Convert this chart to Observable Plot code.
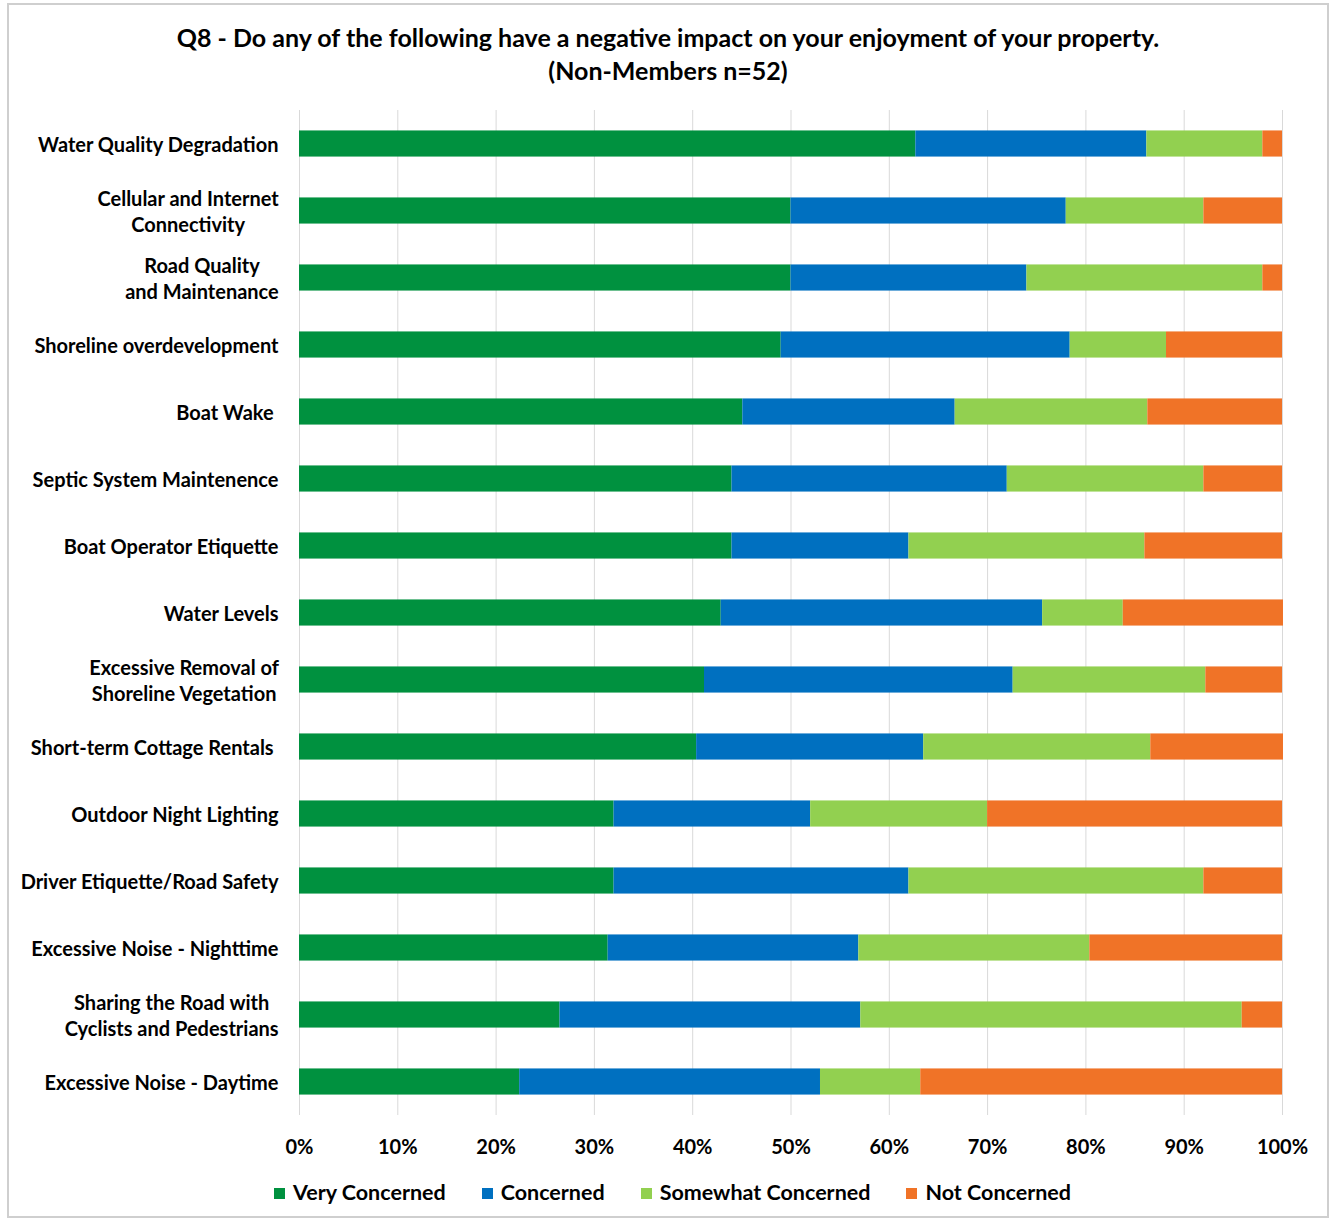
<!DOCTYPE html>
<html><head><meta charset="utf-8">
<script src="https://cdn.jsdelivr.net/npm/d3@7"></script>
<script src="https://cdn.jsdelivr.net/npm/@observablehq/plot@0.6"></script>
<style>
body{margin:0;background:#fff;font-family:Lato,"Open Sans",sans-serif;color:#000;}
#frame{position:absolute;left:7px;top:3px;width:1318px;height:1211px;border:2px solid #cfcfcf;pointer-events:none;}
#title{height:95px;box-sizing:border-box;padding-top:21px;padding-left:5px;text-align:center;font-weight:700;font-size:25px;line-height:33px;white-space:nowrap;}
#chart svg{display:block;}
#legend{display:flex;justify-content:center;gap:36px;font-weight:700;font-size:21.5px;margin-top:14px;padding-left:14px;}
#legend .item{display:flex;align-items:center;}
#legend .sw{width:11px;height:11px;margin-right:8px;margin-top:2px;}
</style></head>
<body>
<div id="frame"></div>
<div id="title">Q8 - Do any of the following have a negative impact on your enjoyment of your property.<br>(Non-Members n=52)</div>
<div id="chart"></div>
<div id="legend"></div>
<script>
const categories = [
  "Water Quality Degradation",
  "Cellular and Internet\nConnectivity",
  "Road Quality\nand Maintenance",
  "Shoreline overdevelopment",
  "Boat Wake\u00a0",
  "Septic System Maintenence",
  "Boat Operator Etiquette",
  "Water Levels",
  "Excessive Removal of\nShoreline Vegetation",
  "Short-term Cottage Rentals\u00a0",
  "Outdoor Night Lighting",
  "Driver Etiquette/Road Safety",
  "Excessive Noise - Nighttime",
  "Sharing the Road with\nCyclists and Pedestrians",
  "Excessive Noise - Daytime"
];
const seriesNames = ["Very Concerned", "Concerned", "Somewhat Concerned", "Not Concerned"];
const colors = ["#00913F", "#0070C0", "#92D050", "#F07327"];
const veryConcerned     = [62.7, 50.0, 50.0, 49.0, 45.1, 44.0, 44.0, 42.9, 41.2, 40.4, 32.0, 32.0, 31.4, 26.5, 22.4];
const concerned         = [23.5, 28.0, 24.0, 29.4, 21.6, 28.0, 18.0, 32.7, 31.4, 23.1, 20.0, 30.0, 25.5, 30.6, 30.6];
const somewhatConcerned = [11.8, 14.0, 24.0,  9.8, 19.6, 20.0, 24.0,  8.2, 19.6, 23.1, 18.0, 30.0, 23.5, 38.8, 10.2];
const notConcerned      = [ 2.0,  8.0,  2.0, 11.8, 13.7,  8.0, 14.0, 16.3,  7.8, 13.5, 30.0,  8.0, 19.6,  4.1, 36.8];
const xTicks = [0, 10, 20, 30, 40, 50, 60, 70, 80, 90, 100];

const seriesValues = [veryConcerned, concerned, somewhatConcerned, notConcerned];
const rows = [];
categories.forEach((c, i) => seriesNames.forEach((s, j) => rows.push({category: c, series: s, value: seriesValues[j][i]})));

const chart = Plot.plot({
  width: 1331, height: 1070,
  marginLeft: 299, marginRight: 49, marginTop: 15, marginBottom: 50,
  style: {fontFamily: "Lato, 'Open Sans', sans-serif", fontSize: "20px", fontWeight: 700, color: "#000", background: "transparent"},
  x: {domain: [0, 100]},
  y: {domain: categories, paddingInner: 0.61, paddingOuter: 0.305, round: false},
  color: {domain: seriesNames, range: colors},
  marks: [
    Plot.gridX(xTicks, {stroke: "#d9d9d9", strokeOpacity: 1, strokeWidth: 1}),
    Plot.barX(rows, Plot.stackX({x: "value", y: "category", fill: "series", order: seriesNames})),
    Plot.axisX(xTicks, {tickFormat: d => d + "%", tickSize: 0, tickPadding: 24, label: null, fontSize: 20}),
    Plot.axisY({tickSize: 0, tickPadding: 21, label: null, lineHeight: 1.3, fontSize: 20})
  ]
});
document.getElementById("chart").appendChild(chart);

// center multi-line category labels like the original
chart.querySelectorAll("text").forEach(t => {
  const spans = t.querySelectorAll("tspan");
  if (spans.length > 1) {
    const b = t.getBBox();
    const cx = b.x + b.width / 2;
    t.setAttribute("text-anchor", "middle");
    t.style.textAnchor = "middle";
    spans.forEach(s => { s.setAttribute("x", cx); s.style.textAnchor = "middle"; });
  }
});

const legend = document.getElementById("legend");
seriesNames.forEach((s, i) => {
  const it = document.createElement("div"); it.className = "item";
  const sw = document.createElement("div"); sw.className = "sw"; sw.style.background = colors[i];
  const tx = document.createElement("span"); tx.textContent = s;
  it.appendChild(sw); it.appendChild(tx); legend.appendChild(it);
});
</script>
</body></html>
